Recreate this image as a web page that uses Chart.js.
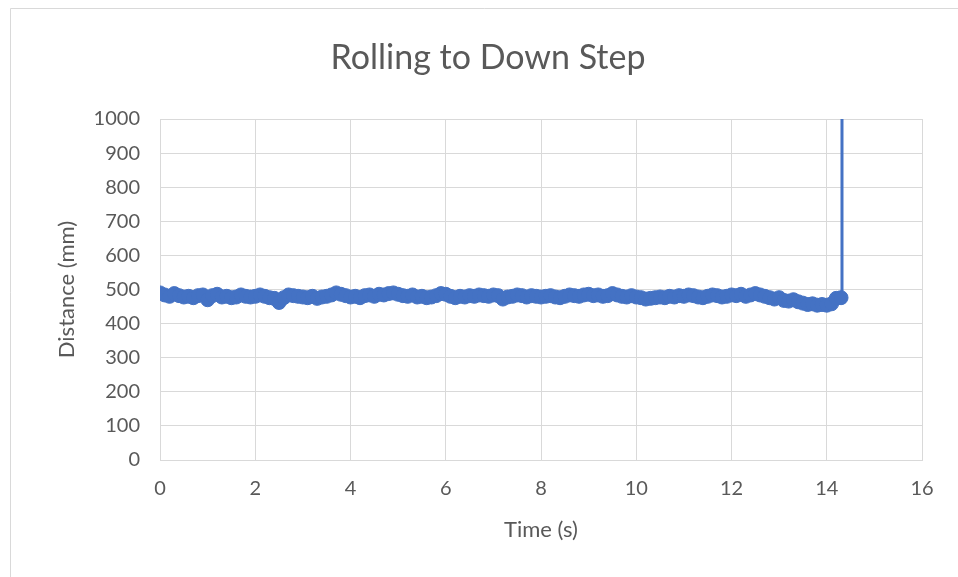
<!DOCTYPE html>
<html>
<head>
<meta charset="utf-8">
<script src="https://cdn.jsdelivr.net/npm/chart.js@4"></script>
<style>
html,body{margin:0;padding:0;background:#fff;}
canvas{display:block;}
</style>
</head>
<body>
<canvas id="c" width="958" height="577"></canvas>
<script>
const chartTitle = "Rolling to Down Step";
const xTitle = "Time (s)";
const yTitle = "Distance (mm)";
const times = [
0.0,0.1,0.2,0.3,0.4,0.5,0.6,0.7,0.8,0.9,
1.0,1.1,1.2,1.3,1.4,1.5,1.6,1.7,1.8,1.9,
2.0,2.1,2.2,2.3,2.4,2.5,2.6,2.7,2.8,2.9,
3.0,3.1,3.2,3.3,3.4,3.5,3.6,3.7,3.8,3.9,
4.0,4.1,4.2,4.3,4.4,4.5,4.6,4.7,4.8,4.9,
5.0,5.1,5.2,5.3,5.4,5.5,5.6,5.7,5.8,5.9,
6.0,6.1,6.2,6.3,6.4,6.5,6.6,6.7,6.8,6.9,
7.0,7.1,7.2,7.3,7.4,7.5,7.6,7.7,7.8,7.9,
8.0,8.1,8.2,8.3,8.4,8.5,8.6,8.7,8.8,8.9,
9.0,9.1,9.2,9.3,9.4,9.5,9.6,9.7,9.8,9.9,
10.0,10.1,10.2,10.3,10.4,10.5,10.6,10.7,10.8,10.9,
11.0,11.1,11.2,11.3,11.4,11.5,11.6,11.7,11.8,11.9,
12.0,12.1,12.2,12.3,12.4,12.5,12.6,12.7,12.8,12.9,
13.0,13.1,13.2,13.3,13.4,13.5,13.6,13.7,13.8,13.9,
14.0,14.1,14.2,14.3,14.32
];
const distances = [
490,484,480,488,482,478,480,476,482,484,
470,482,486,478,480,476,478,484,480,478,
480,484,480,476,474,462,476,484,482,480,
478,476,480,474,478,480,484,490,486,482,
478,480,476,482,484,480,486,484,488,490,
486,482,480,484,478,480,476,478,482,488,
486,480,476,480,478,482,480,484,482,480,
484,482,472,478,480,484,482,478,482,480,
478,480,482,478,476,480,484,482,480,484,
486,482,484,480,482,488,484,480,478,482,
478,476,472,474,476,478,476,480,478,482,
480,484,482,478,476,480,484,482,478,480,
484,482,486,480,484,488,484,480,476,472,
476,468,466,470,464,460,456,458,454,456,
454,458,474,476,3000
];
const xTicks = [0,2,4,6,8,10,12,14,16];
const yTicks = [0,100,200,300,400,500,600,700,800,900,1000];

const points = times.map((t,i)=>({x:t,y:distances[i]}));
const textColor = '#595959';
const gridColor = '#d9d9d9';
const FONT = 'Lato, "Noto Sans", sans-serif';

const frame = {
  id:'frame',
  beforeDraw(chart){
    const ctx = chart.ctx;
    ctx.save();
    ctx.fillStyle='#fff';
    ctx.fillRect(0,0,chart.width,chart.height);
    ctx.strokeStyle=gridColor;
    ctx.lineWidth=1;
    ctx.beginPath();
    ctx.moveTo(10.5,chart.height);
    ctx.lineTo(10.5,8.5);
    ctx.lineTo(chart.width,8.5);
    ctx.stroke();
    ctx.restore();
  }
};

new Chart(document.getElementById('c'),{
  type:'scatter',
  data:{datasets:[{
    data:points,
    showLine:true,
    borderColor:'#4472C4',
    backgroundColor:'#4472C4',
    borderWidth:3,
    pointRadius:7,
    pointBorderWidth:1,
    pointHoverRadius:7,
    tension:0
  }]},
  options:{
    responsive:false,
    animation:false,
    devicePixelRatio:1,
    layout:{padding:{left:54,right:36,top:0,bottom:34}},
    plugins:{
      legend:{display:false},
      tooltip:{enabled:false},
      title:{display:true,text:chartTitle,color:textColor,
        font:{family:FONT,size:34,weight:'normal'},
        padding:{top:37.6,bottom:40.6}}
    },
    scales:{
      x:{type:'linear',min:0,max:16,
        afterBuildTicks(s){s.ticks=xTicks.map(v=>({value:v}));},
        afterFit(s){s.height=83;},
        grid:{color:gridColor,lineWidth:1,drawTicks:false},
        border:{color:gridColor},
        ticks:{color:textColor,font:{family:FONT,size:20},padding:17,callback:v=>String(v)},
        title:{display:true,text:xTitle,color:textColor,font:{family:FONT,size:22},padding:{top:8,bottom:0}}
      },
      y:{type:'linear',min:0,max:1000,
        afterBuildTicks(s){s.ticks=yTicks.map(v=>({value:v}));},
        afterFit(s){s.width=106;},
        grid:{color:gridColor,lineWidth:1,drawTicks:false},
        border:{color:gridColor},
        ticks:{color:textColor,font:{family:FONT,size:20},padding:20,callback:v=>String(v)},
        title:{display:true,text:yTitle,color:textColor,font:{family:FONT,size:22},padding:{top:0,bottom:0}}
      }
    }
  },
  plugins:[frame]
});
</script>
</body>
</html>
